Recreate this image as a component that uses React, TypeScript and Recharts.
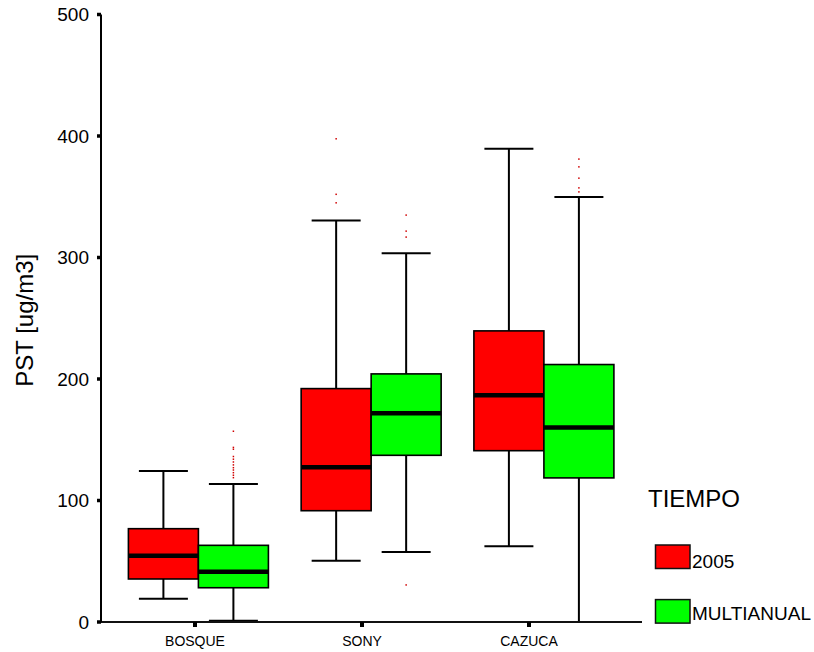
import React from "react";
import { ComposedChart, Bar, XAxis, YAxis } from "recharts";

const categories = ["BOSQUE", "SONY", "CAZUCA"];
const yTicks = [0, 100, 200, 300, 400, 500];

// 2005
const min2005 = [19.2, 50.5, 62.3];
const q1_2005 = [35.4, 91.6, 141.0];
const med2005 = [54.6, 127.4, 186.7];
const q3_2005 = [76.8, 192.1, 239.6];
const max2005 = [124.3, 330.4, 389.5];
const out2005 = [[], [397.7, 352.0, 345.0], []];

// MULTIANUAL
const minMulti = [1.1, 57.6, 0];
const q1Multi = [28.2, 137.2, 118.6];
const medMulti = [41.4, 171.8, 160.0];
const q3Multi = [63.1, 204.2, 211.9];
const maxMulti = [113.6, 303.6, 349.7];
const outMulti = [
  [157, 143.7, 142.2, 136.2, 134, 131.7, 129.3, 127, 125.1, 122.9, 120.8, 118.8],
  [334.9, 321.7, 316.8, 30.5],
  [381, 374.6, 365.3, 357.3, 354],
];

const series = [
  { key: "a", name: "2005", fill: "#ff0000" },
  { key: "b", name: "MULTIANUAL", fill: "#00ff00" },
];

const rows = categories.map((cat, i) => ({
  cat,
  a: { min: min2005[i], q1: q1_2005[i], med: med2005[i], q3: q3_2005[i], max: max2005[i], out: out2005[i] },
  b: { min: minMulti[i], q1: q1Multi[i], med: medMulti[i], q3: q3Multi[i], max: maxMulti[i], out: outMulti[i] },
}));

const FONT = "'Liberation Sans', Arial, sans-serif";

function makeBox(key: string, fill: string) {
  return (props: any) => {
    const { x, y, width, height, payload } = props;
    const s = payload[key];
    const top = Math.min(y, y + height);
    const h = Math.abs(height);
    const k = s.max - s.min > 0 ? h / (s.max - s.min) : 0;
    const py = (v: number) => top + (s.max - v) * k;
    const cx = x + width / 2;
    const cap = width * 0.7;
    return (
      <g>
        <line x1={cx} x2={cx} y1={py(s.max)} y2={py(s.min)} stroke="#000" strokeWidth={2} />
        <line x1={cx - cap / 2} x2={cx + cap / 2} y1={py(s.max)} y2={py(s.max)} stroke="#000" strokeWidth={2} />
        <line x1={cx - cap / 2} x2={cx + cap / 2} y1={py(s.min)} y2={py(s.min)} stroke="#000" strokeWidth={2} />
        <rect
          x={x}
          y={py(s.q3)}
          width={width}
          height={py(s.q1) - py(s.q3)}
          fill={fill}
          stroke="#000"
          strokeWidth={1.6}
        />
        <line x1={x} x2={x + width} y1={py(s.med)} y2={py(s.med)} stroke="#000" strokeWidth={4.5} />
        {s.out.map((v: number, i: number) => (
          <rect key={i} x={cx - 0.75} y={py(v) - 0.75} width={1.5} height={1.5} fill="#d00000" />
        ))}
      </g>
    );
  };
}

function YLabel(props: any) {
  const vb = props.viewBox || { x: 0, y: 0, height: 0 };
  const tx = vb.x + 33;
  const ty = vb.y + vb.height / 2 + 2;
  return (
    <text
      x={tx}
      y={ty}
      transform={`rotate(-90, ${tx}, ${ty})`}
      textAnchor="middle"
      fontSize={24}
      fontFamily={FONT}
      fill="#000"
    >
      PST [ug/m3]
    </text>
  );
}

export default function App() {
  return (
    <div style={{ position: "absolute", left: 0, top: 0, width: 814, height: 652, background: "#fff", fontFamily: FONT }}>
      <ComposedChart
        width={814}
        height={652}
        data={rows}
        margin={{ top: 14.5, right: 172, bottom: 0, left: 0 }}
        barGap={0}
        barSize={70}
      >
        <XAxis
          xAxisId="lab"
          dataKey="cat"
          height={30}
          interval={0}
          padding={{ left: 10.5, right: 29.5 }}
          axisLine={{ stroke: "#111", strokeWidth: 2 }}
          tickLine={{ stroke: "#000", strokeWidth: 4 }}
          tickSize={5}
          tickMargin={9}
          tick={{ fill: "#000", fontSize: 14, fontFamily: FONT }}
        />
        <XAxis xAxisId="box" dataKey="cat" hide height={0} padding={{ left: 11.4, right: 11.35 }} />
        <YAxis
          type="number"
          width={101}
          domain={[0, 500]}
          ticks={yTicks}
          interval={0}
          axisLine={{ stroke: "#000", strokeWidth: 2 }}
          tickLine={{ stroke: "#000", strokeWidth: 3.5 }}
          tickSize={4}
          tickMargin={8}
          tick={{ fill: "#000", fontSize: 19, fontFamily: FONT }}
          label={<YLabel />}
        />
        {series.map((s) => (
          <Bar
            key={s.key}
            xAxisId="box"
            name={s.name}
            dataKey={(d: any) => [d[s.key].min, d[s.key].max]}
            fill={s.fill}
            shape={makeBox(s.key, s.fill)}
            isAnimationActive={false}
          />
        ))}
      </ComposedChart>
      <svg
        width={814}
        height={652}
        style={{ position: "absolute", left: 0, top: 0, pointerEvents: "none" }}
      >
        <text x={648} y={507} fontSize={24} fontFamily={FONT} fill="#000">
          TIEMPO
        </text>
        {series.map((s, i) => (
          <g key={s.key}>
            <rect x={655.5} y={545 + i * 54.6} width={34.5} height={23.5} fill={s.fill} stroke="#111" strokeWidth={1.5} />
            <text x={692} y={568 + i * 51.5} fontSize={19} fontFamily={FONT} fill="#000">
              {s.name}
            </text>
          </g>
        ))}
      </svg>
    </div>
  );
}
